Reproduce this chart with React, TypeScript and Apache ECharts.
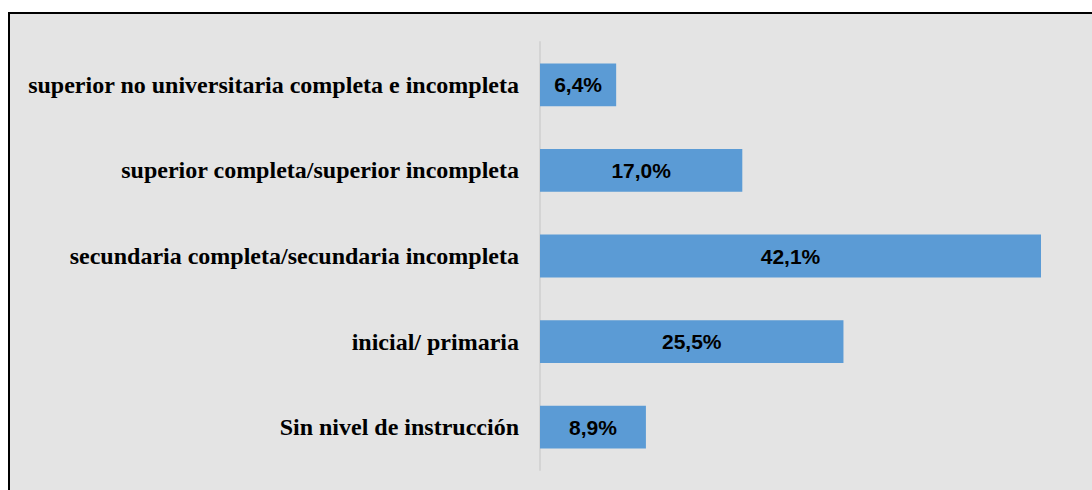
import React, { useEffect, useRef } from "react";
import * as echarts from "echarts";

const categories = [
  "superior no universitaria completa e incompleta",
  "superior completa/superior incompleta",
  "secundaria completa/secundaria incompleta",
  "inicial/ primaria",
  "Sin nivel de instrucción",
];
const values = [6.4, 17.0, 42.1, 25.5, 8.9];

export default function App() {
  const ref = useRef<HTMLDivElement>(null);
  useEffect(() => {
    if (!ref.current) return;
    const chart = echarts.init(ref.current, null, { renderer: "svg" });
    chart.setOption({
      animation: false,
      backgroundColor: "#ffffff",
      graphic: [
        {
          type: "rect",
          z: -10,
          silent: true,
          shape: { x: 9, y: 13, width: 1200, height: 600 },
          style: { fill: "#e4e4e4", stroke: "#000000", lineWidth: 2 },
        },
      ],
      grid: { left: 540, right: 51, top: 42, bottom: 20, containLabel: false },
      xAxis: {
        type: "value",
        min: 0,
        max: 42.1,
        show: false,
        splitLine: { show: false },
      },
      yAxis: {
        type: "category",
        data: categories,
        inverse: true,
        axisLine: { show: true, lineStyle: { color: "#d4d4d4", width: 2 } },
        axisTick: { show: false },
        axisLabel: {
          margin: 21,
          color: "#000000",
          fontFamily: "'Liberation Serif', 'Times New Roman', serif",
          fontWeight: "bold",
          fontSize: 24,
        },
      },
      series: [
        {
          type: "bar",
          data: values,
          barWidth: "50%",
          itemStyle: { color: "#5b9bd5" },
          label: {
            show: true,
            position: "inside",
            color: "#000000",
            fontFamily: "'Liberation Sans', Arial, sans-serif",
            fontWeight: "bold",
            fontSize: 21,
            formatter: (p: any) => p.value.toFixed(1).replace(".", ",") + "%",
          },
        },
      ],
    });
    return () => chart.dispose();
  }, []);
  return (
    <div
      ref={ref}
      style={{ position: "absolute", left: 0, top: 0, width: 1092, height: 490 }}
    />
  );
}
